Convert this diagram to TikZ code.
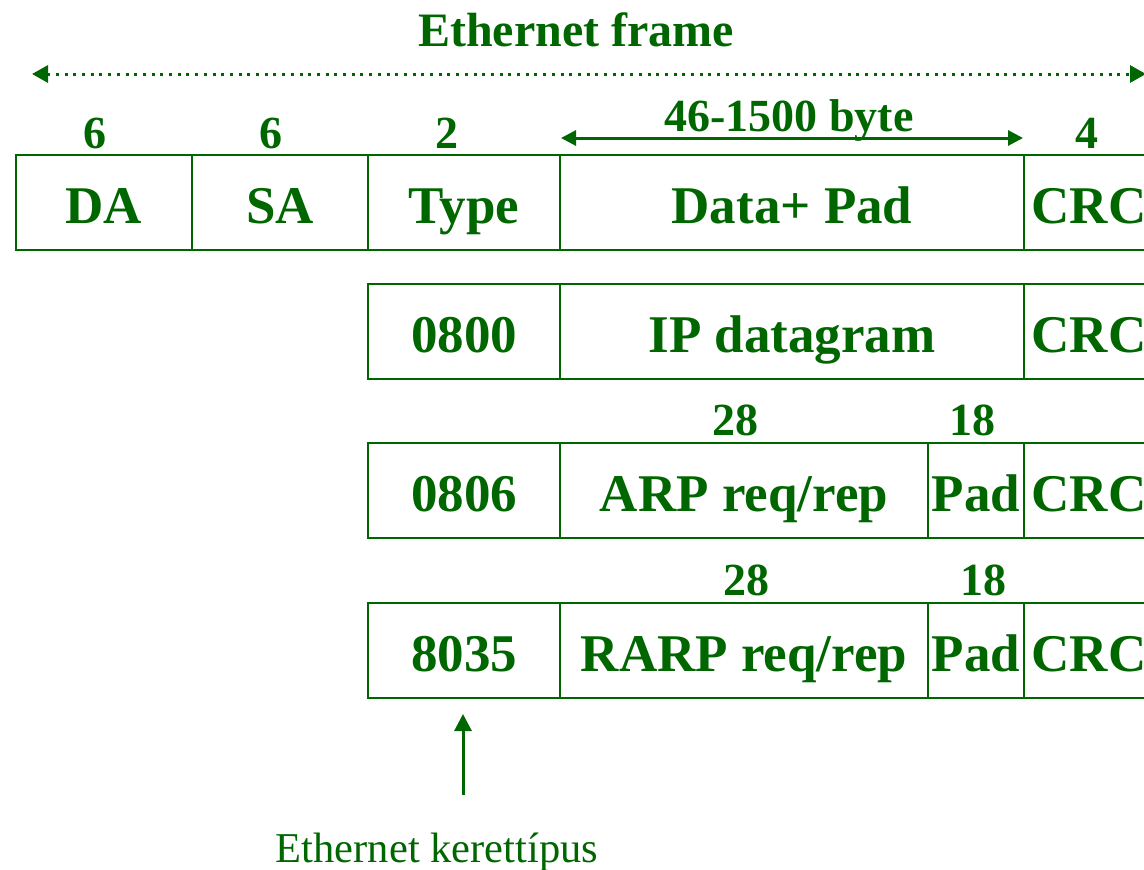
\documentclass[tikz,border=0pt]{standalone}
\usepackage{fontspec}
\setmainfont{Liberation Serif}
\usetikzlibrary{arrows.meta}
\definecolor{dg}{RGB}{0,102,0}
\tikzset{
  fld/.style={draw=dg, line width=2.5pt, minimum height=95pt, inner sep=0pt, outer sep=0pt,
    anchor=north west, text=dg, text height=45pt, text depth=4pt,
    font=\fontsize{53}{60}\selectfont\bfseries},
  lbl/.style={anchor=base, text=dg, inner sep=0pt, font=\fontsize{46}{52}\selectfont\bfseries},
  arr/.style={draw=dg, line width=3pt},
}
\begin{document}
\begin{tikzpicture}[x=1pt,y=-1pt]
\useasboundingbox (0,0) rectangle (1144,870);
% title
\node[lbl, font=\fontsize{48}{54}\selectfont\bfseries] (title) at (576,46) {Ethernet frame};
\coordinate (fl) at (32,74);
\coordinate (fr) at (1146,74);
\draw[arr, dash pattern=on 3pt off 5.7pt, {Triangle[length=16pt,width=17pt]}-{Triangle[length=16pt,width=17pt]}] (fl) -- (fr);
% row 1
\node[fld, minimum width=176pt] (da) at (16,155) {DA};
\node[fld, minimum width=176pt] (sa) at (192,155) {SA};
\node[fld, minimum width=192pt] (type) at (368,155) {Type};
\node[fld, minimum width=464pt] (data) at (560,155) {Data+ Pad};
\node[fld, minimum width=130pt] (crc1) at (1024,155) {CRC};
\node[lbl] (n6a) at (95,148) {6};
\node[lbl] (n6b) at (271,148) {6};
\node[lbl] (n2) at (447,148) {2};
\node[lbl] (n4) at (1087,148) {4};
\node[lbl] (nrange) at (789,131) {46-1500 byte};
\coordinate (rl) at (561,138);
\coordinate (rr) at (1023,138);
\draw[arr, {Triangle[length=15pt,width=15pt]}-{Triangle[length=15pt,width=15pt]}] (rl) -- (rr);
% row 2
\node[fld, minimum width=192pt] (t2) at (368,284) {0800};
\node[fld, minimum width=464pt] (ip) at (560,284) {IP datagram};
\node[fld, minimum width=130pt] (crc2) at (1024,284) {CRC};
% row 3
\node[lbl] (n28a) at (735,435) {28};
\node[lbl] (n18a) at (972,435) {18};
\node[fld, minimum width=192pt] (t3) at (368,443) {0806};
\node[fld, minimum width=368pt] (arp) at (560,443) {ARP req/rep};
\node[fld, minimum width=96pt] (pad3) at (928,443) {Pad};
\node[fld, minimum width=130pt] (crc3) at (1024,443) {CRC};
% row 4
\node[lbl] (n28b) at (746,595) {28};
\node[lbl] (n18b) at (983,595) {18};
\node[fld, minimum width=192pt] (t4) at (368,603) {8035};
\node[fld, minimum width=368pt] (rarp) at (560,603) {RARP req/rep};
\node[fld, minimum width=96pt] (pad4) at (928,603) {Pad};
\node[fld, minimum width=130pt] (crc4) at (1024,603) {CRC};
% bottom
\node[anchor=base, text=dg, inner sep=0pt, font=\fontsize{42.5}{48}\selectfont] (ket) at (437,862) {Ethernet kerettípus};
\coordinate (ab) at (463,795);
\coordinate (at) at (463,714);
\draw[arr, -{Triangle[length=17pt,width=17pt]}] (ab) -- (at);
\end{tikzpicture}
\end{document}
